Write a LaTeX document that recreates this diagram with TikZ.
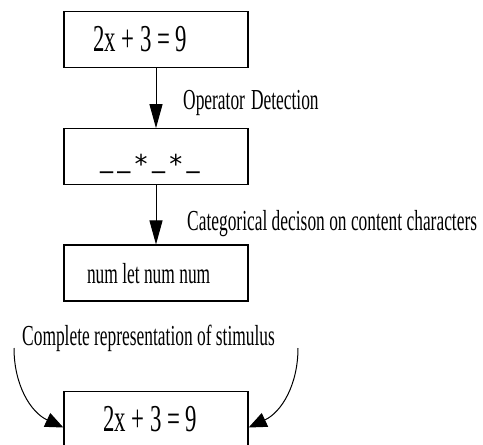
\documentclass[tikz,border=0pt]{standalone}
\usepackage{fontspec}
\setmainfont{Liberation Serif}[FakeStretch=0.6]
\newfontfamily\maskfont{DejaVu Sans}
\usetikzlibrary{arrows.meta, positioning}
\newcommand{\lowstar}{\raisebox{-6pt}{*}}

\begin{document}
\begin{tikzpicture}[x=1pt, y=1pt, >={Triangle[length=24pt, width=13pt]},
    box/.style={draw, line width=1.3pt, minimum height=56pt, align=flush left,
      font=\fontsize{38}{40}\selectfont},
    lbl/.style={anchor=base west, inner sep=0pt, font=\fontsize{29}{31}\selectfont},
    curvearrow/.style={->, line width=1pt, >={Triangle[length=18pt, width=15pt]}}]
  \useasboundingbox (0,0) rectangle (483,-445);

  % Boxes
	\node[box, text width=126pt, inner xsep=29pt] (eqn) at (156,-39.5) {2x + 3 = 9};
	\node[box, below=60pt of eqn, text width=112pt, inner xsep=36pt,
	  text height=21pt, text depth=0pt,
	  font=\maskfont\fontsize{26}{28}\selectfont] (ops) {\_\,\_\,\lowstar\,\_\,\lowstar\,\_};
	\node[box, below=59pt of ops, text width=138pt, inner xsep=23pt,
	  font=\fontsize{29}{31}\selectfont] (cats) {num let num num};
	\node[box, below=89pt of cats, text width=106pt, inner xsep=39pt] (whole) {2x + 3 = 9};

  % Labels
	\node[lbl] (oplbl) at (183,-109) {Operator\hspace{6pt}Detection};
	\node[lbl] (catlbl) at (187,-230) {Categorical decison on content characters};
	\node[lbl] (replbl) at (22,-345) {Complete representation of stimulus};

  % Arrows
	\draw[->, line width=1pt] (eqn) -- (ops);
	\draw[->, line width=1pt] (ops) -- (cats);

	\coordinate (lfrom) at (14,-348);
	\coordinate (rfrom) at (298,-348);
	\draw[curvearrow] (lfrom) to[out=-90, in=155] (whole.185);
	\draw[curvearrow] (rfrom) to[out=-90, in=25] (whole.355);
\end{tikzpicture}
\end{document}
